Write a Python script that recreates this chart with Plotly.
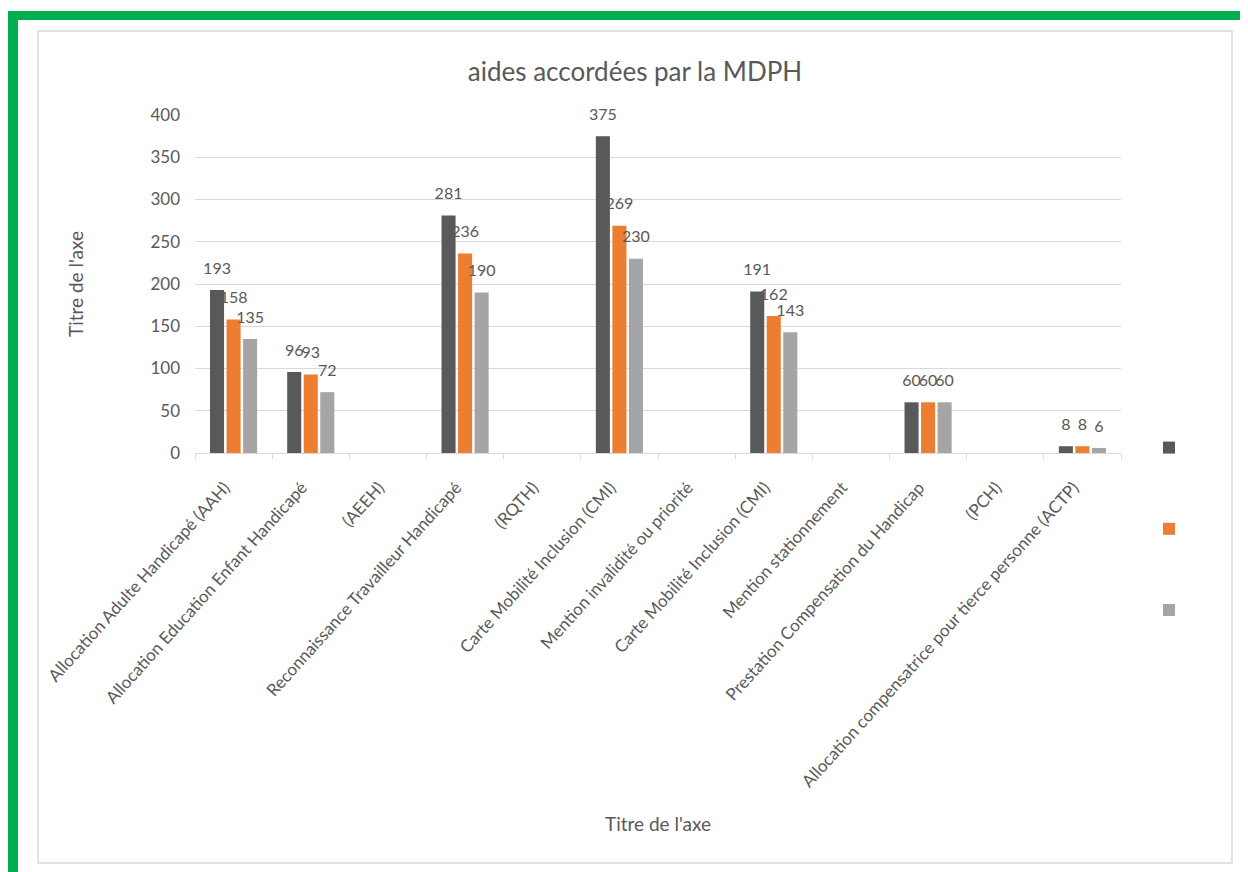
import plotly.graph_objects as go

categories = [
    "Allocation Adulte Handicapé (AAH)",
    "Allocation Education Enfant Handicapé",
    "(AEEH)",
    "Reconnaissance Travailleur Handicapé",
    "(RQTH)",
    "Carte Mobilité Inclusion (CMI)",
    "Mention invalidité ou priorité",
    "Carte Mobilité Inclusion (CMI)",
    "Mention stationnement",
    "Prestation Compensation du Handicap",
    "(PCH)",
    "Allocation compensatrice pour tierce personne (ACTP)",
]
series_1 = [193, 96, None, 281, None, 375, None, 191, None, 60, None, 8]
series_2 = [158, 93, None, 236, None, 269, None, 162, None, 60, None, 8]
series_3 = [135, 72, None, 190, None, 230, None, 143, None, 60, None, 6]
series_names = ["", "", ""]
colors = ["#595959", "#ED7D31", "#A5A5A5"]
y_ticks = [0, 50, 100, 150, 200, 250, 300, 350, 400]

OFF = 8  # page body margin
W_PX, H_PX = 1248 - OFF, 872 - OFF
L, R, T, B = 195 - OFF, 1121 - OFF, 115 - OFF, 453 - OFF
FONT = "Lato, 'Open Sans', sans-serif"
TXT = "#595959"


def px_x(px):
    return (px - OFF - L) / (R - L)


def px_y(py):
    return (B - (py - OFF)) / (B - T)


x_idx = list(range(len(categories)))
fig = go.Figure()

for i, (vals, col) in enumerate(zip([series_1, series_2, series_3], colors)):
    fig.add_trace(go.Bar(
        x=x_idx, y=vals, name=series_names[i], marker=dict(color=col, line=dict(width=0)),
        legendgroup=f"g{i}", offsetgroup=f"s{i}", showlegend=True,
    ))

for i, vals in enumerate([series_1, series_2, series_3]):
    fig.add_trace(go.Scatter(
        x=x_idx, y=vals, mode="text+markers",
        text=[("" if v is None else str(v)) for v in vals],
        textposition="top center",
        textfont=dict(family=FONT, size=16, color=TXT),
        marker=dict(size=18, opacity=0),
        offsetgroup=f"s{i}", showlegend=False, cliponaxis=False, hoverinfo="skip",
    ))

shapes = [
    # green frame
    dict(type="rect", xref="paper", yref="paper", x0=px_x(8), x1=px_x(1260), y0=px_y(11), y1=px_y(20),
         fillcolor="#00B050", line=dict(width=0), layer="above"),
    dict(type="rect", xref="paper", yref="paper", x0=px_x(8), x1=px_x(18), y0=px_y(11), y1=px_y(880),
         fillcolor="#00B050", line=dict(width=0), layer="above"),
    # chart area border
    dict(type="rect", xref="paper", yref="paper", x0=px_x(38), x1=px_x(1232), y0=px_y(31), y1=px_y(863),
         fillcolor="rgba(0,0,0,0)", line=dict(color="#D9D9D9", width=1.5), layer="below"),
]

annotations = [
    dict(text="Titre de l'axe", xref="paper", yref="paper", x=px_x(75), y=0.5, textangle=-90,
         showarrow=False, font=dict(family=FONT, size=19, color=TXT), xanchor="center", yanchor="middle"),
    dict(text="Titre de l'axe", xref="paper", yref="paper", x=0.5, y=px_y(823),
         showarrow=False, font=dict(family=FONT, size=19, color=TXT), xanchor="center", yanchor="middle"),
]

fig.update_layout(
    width=W_PX, height=H_PX,
    margin=dict(l=L, r=W_PX - R, t=T, b=H_PX - B, autoexpand=False),
    paper_bgcolor="white", plot_bgcolor="white",
    barmode="group", bargap=0.357, bargroupgap=0.15,
    scattermode="group", scattergap=0.357,
    title=dict(text="aides accordées par la MDPH", x=(635 - OFF) / W_PX, y=1 - (72 - OFF) / H_PX,
               xref="container", yref="container", xanchor="center", yanchor="middle",
               font=dict(family=FONT, size=26, color=TXT)),
    showlegend=True,
    legend=dict(x=px_x(1149), y=px_y(432), xanchor="left", yanchor="top",
                tracegroupgap=60, font=dict(family=FONT, size=14, color=TXT),
                bgcolor="rgba(0,0,0,0)", itemwidth=30),
    shapes=shapes, annotations=annotations,
    font=dict(family=FONT, color=TXT),
)

fig.update_xaxes(
    range=[-0.5, len(categories) - 0.5], tickmode="array", tickvals=x_idx, ticktext=categories,
    tickangle=-48, tickfont=dict(family=FONT, size=17, color=TXT),
    showgrid=False, zeroline=False, showline=True, linecolor="#D9D9D9", linewidth=1,
    ticks="", ticklabelstandoff=17, ticklabelshift=-9,
    minor=dict(tickmode="array", tickvals=[i - 0.5 for i in range(len(categories) + 1)],
               ticks="outside", ticklen=5, tickcolor="#D9D9D9", showgrid=False),
)
fig.update_yaxes(
    range=[0, 400], tickmode="array", tickvals=y_ticks,
    tickfont=dict(family=FONT, size=17, color=TXT),
    showgrid=True, gridcolor="#D9D9D9", gridwidth=1, zeroline=False, showline=False, ticks="",
    ticklabelstandoff=14,
)

fig.write_html("out.html")
